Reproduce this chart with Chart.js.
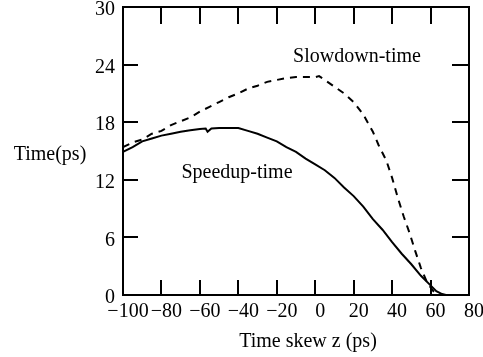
<!DOCTYPE html>
<html>
<head>
<meta charset="utf-8">
<script src="https://cdn.jsdelivr.net/npm/chart.js@4"></script>
<style>
  html, body { margin: 0; padding: 0; background: #fff; }
  canvas { display: block; }
</style>
</head>
<body>
<canvas id="skewChart" width="483" height="357"></canvas>
<script>
  // Time skew z (ps) and the two curves
  const skewSlow = [-100, -95, -90, -85, -80, -75, -70, -65, -60, -55, -50, -45, -40, -35, -30, -25, -20, -15, -10, -5, 0, 2, 5, 10, 15, 20, 25, 30, 33, 37, 40, 43, 46, 49, 52, 55, 58, 61, 63, 65, 80];
  const slowdownTime = [15.4, 15.9, 16.2, 16.8, 17.1, 17.7, 18.1, 18.5, 19.1, 19.6, 20.1, 20.6, 21.0, 21.5, 21.8, 22.2, 22.4, 22.6, 22.7, 22.7, 22.7, 22.8, 22.4, 21.7, 21.0, 20.1, 18.8, 17.0, 15.6, 14.0, 12.2, 10.1, 8.2, 6.5, 4.6, 2.8, 1.4, 0.5, 0.1, 0, 0];

  const skewSpeed = [-100, -95, -90, -85, -80, -75, -70, -65, -60, -57, -56, -54, -50, -45, -40, -35, -30, -25, -20, -15, -10, -5, 0, 5, 10, 15, 20, 25, 30, 35, 40, 45, 50, 55, 60, 63, 66, 68, 80];
  const speedupTime = [14.9, 15.4, 16.0, 16.3, 16.6, 16.8, 17.0, 17.15, 17.3, 17.35, 17.0, 17.35, 17.4, 17.4, 17.4, 17.1, 16.8, 16.4, 16.0, 15.4, 14.9, 14.2, 13.6, 13.0, 12.2, 11.2, 10.3, 9.2, 7.9, 6.8, 5.5, 4.3, 3.2, 2.0, 1.0, 0.4, 0.1, 0, 0];

  const xTicks = [-100, -80, -60, -40, -20, 0, 20, 40, 60, 80];
  const yTicks = [0, 6, 12, 18, 24, 30];

  const serif = "'Liberation Serif', 'Times New Roman', serif";

  function toPoints(xs, ys) {
    return xs.map((x, i) => ({ x: x, y: ys[i] }));
  }

  // border box + inward ticks on all four sides, plus the free text
  const framePlugin = {
    id: "frame",
    afterDraw(chart) {
      const ctx = chart.ctx;
      const a = chart.chartArea;
      const xs = chart.scales.x;
      const ys = chart.scales.y;
      ctx.save();
      ctx.strokeStyle = "#000";
      ctx.lineWidth = 2;
      ctx.strokeRect(a.left, a.top, a.right - a.left, a.bottom - a.top);
      ctx.beginPath();
      xTicks.forEach((v) => {
        const px = Math.round(xs.getPixelForValue(v));
        ctx.moveTo(px, a.bottom);
        ctx.lineTo(px, a.bottom - 15);
        ctx.moveTo(px, a.top);
        ctx.lineTo(px, a.top + 17);
      });
      yTicks.forEach((v) => {
        const py = Math.round(ys.getPixelForValue(v));
        ctx.moveTo(a.left, py);
        ctx.lineTo(a.left + 15, py);
        ctx.moveTo(a.right, py);
        ctx.lineTo(a.right - 17, py);
      });
      ctx.stroke();

      ctx.fillStyle = "#000";
      ctx.font = "20px " + serif;
      ctx.textAlign = "center";
      ctx.textBaseline = "middle";
      ctx.fillText("Time(ps)", 50, 155);
      ctx.fillText("Time skew z (ps)", 308, 342);
      ctx.fillText("Slowdown-time", 357, 57);
      ctx.fillText("Speedup-time", 237, 173);
      ctx.restore();
    },
  };

  const ctx = document.getElementById("skewChart").getContext("2d");
  const skewChart = new Chart(ctx, {
    type: "line",
    data: {
      datasets: [
        {
          label: "Slowdown-time",
          data: toPoints(skewSlow, slowdownTime),
          borderColor: "#000",
          borderWidth: 2,
          borderDash: [7, 6],
          pointRadius: 0,
          tension: 0,
          fill: false,
        },
        {
          label: "Speedup-time",
          data: toPoints(skewSpeed, speedupTime),
          borderColor: "#000",
          borderWidth: 2,
          pointRadius: 0,
          tension: 0,
          fill: false,
        },
      ],
    },
    options: {
      responsive: false,
      animation: false,
      layout: {
        padding: { left: 0, top: 7, right: 14, bottom: 0 },
      },
      scales: {
        x: {
          type: "linear",
          min: -100,
          max: 80,
          afterFit: (s) => {
            s.height = 62;
            s.paddingLeft = 0;
            s.paddingRight = 0;
          },
          afterBuildTicks: (s) => { s.ticks = xTicks.map((v) => ({ value: v })); },
          grid: { display: false, drawTicks: false },
          border: { display: false },
          ticks: {
            color: "#000",
            padding: 5,
            maxRotation: 0,
            autoSkip: false,
            font: { family: serif, size: 20 },
            // leading figure space nudges the labels right, as in the figure
            callback: (v) => "\u2007" + (v < 0 ? "\u2212" + (-v) : String(v)),
          },
        },
        y: {
          min: 0,
          max: 30,
          afterFit: (s) => {
            s.width = 123;
            s.paddingTop = 0;
            s.paddingBottom = 0;
          },
          afterBuildTicks: (s) => { s.ticks = yTicks.map((v) => ({ value: v })); },
          grid: { display: false, drawTicks: false },
          border: { display: false },
          ticks: {
            color: "#000",
            padding: 8,
            font: { family: serif, size: 20, lineHeight: "6px" },
            // empty first line drops the number a few pixels below its tick
            callback: (v) => ["", String(v)],
          },
        },
      },
      plugins: {
        legend: { display: false },
        tooltip: { enabled: false },
      },
    },
    plugins: [framePlugin],
  });
</script>
</body>
</html>
